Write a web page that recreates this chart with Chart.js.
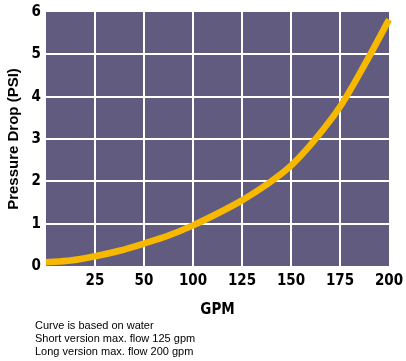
<!DOCTYPE html>
<html>
<head>
<meta charset="utf-8">
<script src="https://cdn.jsdelivr.net/npm/chart.js@4.4.0/dist/chart.umd.min.js"></script>
<style>
  html, body { margin: 0; padding: 0; background: #fff; }
  #wrap { position: relative; width: 406px; height: 361px; }
  #notes {
    position: absolute; left: 35px; top: 319px;
    font: 11px "Liberation Sans", Arial, sans-serif; line-height: 13px; color: #000;
  }
</style>
</head>
<body>
<div id="wrap">
  <canvas id="pdChart" width="406" height="361"></canvas>
  <div id="notes">Curve is based on water<br>Short version max. flow 125 gpm<br>Long version max. flow 200 gpm</div>
</div>
<script>
// tick labels as printed under the grid (note: no 75 on the original)
const xTickLabels = ['', '25', '50', '100', '125', '150', '175', '200'];
// curve, x in grid positions, y in PSI
const gridPos = [0, 0.5, 1, 1.5, 2, 2.5, 3, 3.5, 4, 4.5, 5, 5.5, 6, 6.5, 7];
const psi = [0.09, 0.13, 0.23, 0.36, 0.53, 0.72, 0.96, 1.24, 1.55, 1.92, 2.37, 3.0, 3.76, 4.75, 5.82];

const tickFont = { family: '"DejaVu Sans Condensed", "Liberation Sans", sans-serif', size: 15, weight: 'bold' };

// purple plot background
const plotBg = {
    id: 'plotBg',
    beforeDraw(chart) {
        const a = chart.chartArea;
        const ctx = chart.ctx;
        ctx.save();
        ctx.fillStyle = '#625b80';
        ctx.fillRect(a.left, a.top, a.right - a.left, a.bottom - a.top);
        ctx.restore();
    }
};

let ctx = document.getElementById('pdChart').getContext('2d');
new Chart(ctx, {
    type: 'line',
    data: {
        datasets: [{
            data: gridPos.map((x, i) => ({ x: x, y: psi[i] })),
            borderColor: '#f7b900',
            borderWidth: 6.5,
            pointRadius: 0,
            fill: false,
            cubicInterpolationMode: 'monotone',
            clip: false
        }]
    },
    options: {
        responsive: false,
        animation: false,
        layout: { padding: { top: 12, right: 17, bottom: 41, left: 0 } },
        plugins: { legend: { display: false }, tooltip: { enabled: false } },
        scales: {
            x: {
                type: 'linear',
                min: 0,
                max: 7,
                afterFit: s => { s.height = 54; s.paddingLeft = 0; s.paddingRight = 0; },
                border: { display: false },
                grid: {
                    drawTicks: false,
                    lineWidth: 2,
                    color: c => (c.tick && (c.tick.value === 0 || c.tick.value === 7)) ? 'rgba(0,0,0,0)' : '#ffffff'
                },
                ticks: {
                    stepSize: 1,
                    padding: 6,
                    color: '#000',
                    font: tickFont,
                    callback: v => xTickLabels[v]
                },
                title: {
                    display: true,
                    text: 'GPM',
                    color: '#000',
                    font: tickFont,
                    padding: { top: 0, bottom: 1 }
                }
            },
            y: {
                min: 0,
                max: 6,
                afterFit: s => { s.width = 46; s.paddingTop = 0; s.paddingBottom = 0; },
                border: { display: false },
                grid: {
                    drawTicks: false,
                    lineWidth: 2,
                    color: c => (c.tick && (c.tick.value === 0 || c.tick.value === 6)) ? 'rgba(0,0,0,0)' : '#ffffff'
                },
                ticks: {
                    stepSize: 1,
                    padding: 5,
                    color: '#000',
                    font: tickFont
                },
                title: {
                    display: true,
                    text: 'Pressure Drop (PSI)',
                    color: '#000',
                    font: { family: '"Liberation Sans", Arial, sans-serif', size: 15, weight: 'bold' },
                    padding: { top: 5, bottom: 0 }
                }
            }
        }
    },
    plugins: [plotBg]
});
</script>
</body>
</html>
